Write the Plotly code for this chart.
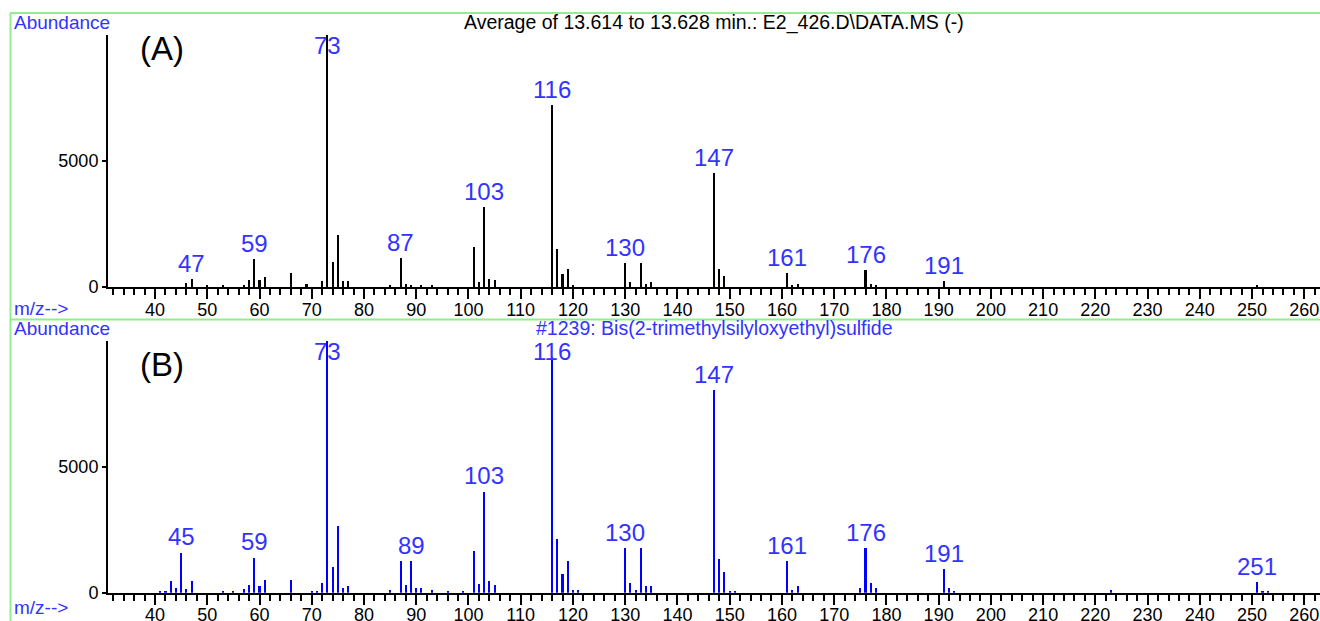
import plotly.graph_objects as go

# ---------------- data ----------------
mz_a = [46, 47, 50, 53, 57, 58, 59, 60, 61, 66, 69, 72, 73, 74, 75, 76, 77, 85, 87, 88, 89, 91, 93,
        101, 102, 103, 104, 105, 116, 117, 118, 119, 120, 130, 131, 133, 134, 135, 147, 148, 149,
        161, 162, 163, 176, 177, 178, 191, 251]
ab_a = [145, 330, 60, 80, 80, 280, 1100, 280, 410, 545, 100, 240, 10000, 995, 2070, 240, 240, 60, 1160, 130, 80, 60, 60,
        1575, 200, 3190, 330, 260, 7210, 1510, 500, 710, 80, 945, 200, 945, 130, 200, 4515, 710, 450,
        550, 60, 130, 685, 130, 80, 240, 60]
labels_a = [47, 59, 73, 87, 103, 116, 130, 147, 161, 176, 191]

mz_b = [41, 42, 43, 44, 45, 46, 47, 53, 55, 57, 58, 59, 60, 61, 66, 70, 71, 72, 73, 74, 75, 76, 77,
        85, 87, 88, 89, 90, 91, 93, 96, 99, 101, 102, 103, 104, 105, 116, 117, 118, 119, 120, 121,
        130, 131, 132, 133, 134, 135, 147, 148, 149, 150, 151, 161, 162, 163, 175, 176, 177, 178,
        191, 192, 193, 223, 251, 252, 253]
ab_b = [90, 90, 460, 200, 1600, 145, 460, 90, 90, 145, 330, 1400, 265, 530, 530, 90, 90, 410, 10000, 1030, 2670, 200, 265,
        135, 1260, 330, 1260, 210, 210, 135, 60, 60, 1660, 345, 4025, 460, 330, 9350, 2150, 765, 1260, 135, 135,
        1775, 400, 135, 1775, 260, 260, 8050, 1340, 830, 80, 50, 1260, 135, 260, 210, 1775, 400, 210,
        960, 210, 60, 100, 430, 80, 60]
labels_b = [45, 59, 73, 89, 103, 116, 130, 147, 161, 176, 191, 251]

x_tick_vals = [40, 50, 60, 70, 80, 90, 100, 110, 120, 130, 140, 150, 160, 170, 180, 190, 200,
               210, 220, 230, 240, 250, 260]
y_tick_vals = [0, 5000]

title_a = "Average of 13.614 to 13.628 min.: E2_426.D\\DATA.MS (-)"
title_b = "#1239: Bis(2-trimethylsilyloxyethyl)sulfide"
panel_a = "(A)"
panel_b = "(B)"

# ---------------- style ----------------
W, H = 1320, 621
FONT = "Liberation Sans, Arial, sans-serif"
BLUE_TXT = "#3333ff"
GREEN = "#90ee90"
YMAX = 10000
XR = [31, 263]


def px(x):
    return x / W


def py(y):
    return 1 - y / H


fig = go.Figure()
fig.add_trace(go.Bar(x=mz_a, y=ab_a, width=0.4, marker=dict(color="black", line=dict(width=0)),
                     xaxis="x", yaxis="y", showlegend=False))
fig.add_trace(go.Bar(x=mz_b, y=ab_b, width=0.4, marker=dict(color="#0000ff", line=dict(width=0)),
                     xaxis="x2", yaxis="y2", showlegend=False))

xcommon = dict(range=XR, showline=True, linecolor="black", linewidth=2, ticks="outside",
               ticklen=10, tickwidth=1.5, tickcolor="black", tickvals=x_tick_vals,
               ticklabelstandoff=-5,
               minor=dict(dtick=2, tick0=0, ticks="outside", ticklen=6, tickwidth=1.5, tickcolor="black"),
               showgrid=False, zeroline=False, tickfont=dict(family=FONT, size=18, color="black"),
               fixedrange=True, automargin=False)
ycommon = dict(range=[0, YMAX], showline=True, linecolor="black", linewidth=2, ticks="outside",
               ticklen=4, tickwidth=1.5, tickcolor="black", tickvals=y_tick_vals,
               showgrid=False, zeroline=False, tickfont=dict(family=FONT, size=18, color="black"),
               fixedrange=True, automargin=False)

fig.update_layout(
    width=W, height=H, margin=dict(l=0, r=0, t=0, b=0, autoexpand=False),
    paper_bgcolor="white", plot_bgcolor="white", bargap=0,
    xaxis=dict(domain=[px(108), 1], anchor="y", **xcommon),
    yaxis=dict(domain=[py(287), py(35)], anchor="x", **ycommon),
    xaxis2=dict(domain=[px(108), 1], anchor="y2", **xcommon),
    yaxis2=dict(domain=[py(592.7), py(340.7)], anchor="x2", **ycommon),
)

anns = []
LBL = 24


def peak_labels(mzs, abs_, labels, xr, yr):
    lookup = dict(zip(mzs, abs_))
    for m in labels:
        v = lookup[m]
        if v > 0.9 * YMAX:
            anns.append(dict(x=m, y=YMAX, xref=xr, yref=yr, text=str(m), showarrow=False,
                             yanchor="top", yshift=5, font=dict(family=FONT, size=LBL, color=BLUE_TXT)))
        else:
            anns.append(dict(x=m, y=v, xref=xr, yref=yr, text=str(m), showarrow=False,
                             yanchor="bottom", yshift=0, font=dict(family=FONT, size=LBL, color=BLUE_TXT)))


peak_labels(mz_a, ab_a, labels_a, "x", "y")
peak_labels(mz_b, ab_b, labels_b, "x2", "y2")

for ytop, title, tcol, panel, pcy, mzy in [(22, title_a, "black", panel_a, 48, 308),
                                            (328, title_b, BLUE_TXT, panel_b, 365, 607)]:
    anns.append(dict(x=px(12), y=py(ytop), xref="paper", yref="paper", text="Abundance",
                     showarrow=False, xanchor="left", yanchor="middle",
                     font=dict(family=FONT, size=19, color=BLUE_TXT)))
    anns.append(dict(x=px(714), y=py(ytop), xref="paper", yref="paper", text=title,
                     showarrow=False, xanchor="center", yanchor="middle",
                     font=dict(family=FONT, size=19.5, color=tcol)))
    anns.append(dict(x=px(138), y=py(pcy), xref="paper", yref="paper", text=panel,
                     showarrow=False, xanchor="left", yanchor="middle",
                     font=dict(family=FONT, size=33, color="black")))
    anns.append(dict(x=px(12), y=py(mzy), xref="paper", yref="paper", text="m/z-->",
                     showarrow=False, xanchor="left", yanchor="middle",
                     font=dict(family=FONT, size=19, color=BLUE_TXT)))

fig.update_layout(annotations=anns)

shapes = [
    dict(type="line", xref="paper", yref="paper", x0=px(10), x1=1, y0=py(13), y1=py(13),
         line=dict(color=GREEN, width=2)),
    dict(type="line", xref="paper", yref="paper", x0=px(10.5), x1=px(10.5), y0=py(13), y1=0,
         line=dict(color=GREEN, width=2)),
    dict(type="line", xref="paper", yref="paper", x0=px(10), x1=1, y0=py(319.5), y1=py(319.5),
         line=dict(color=GREEN, width=2)),
]
fig.update_layout(shapes=shapes)

fig.write_html("out.html")
